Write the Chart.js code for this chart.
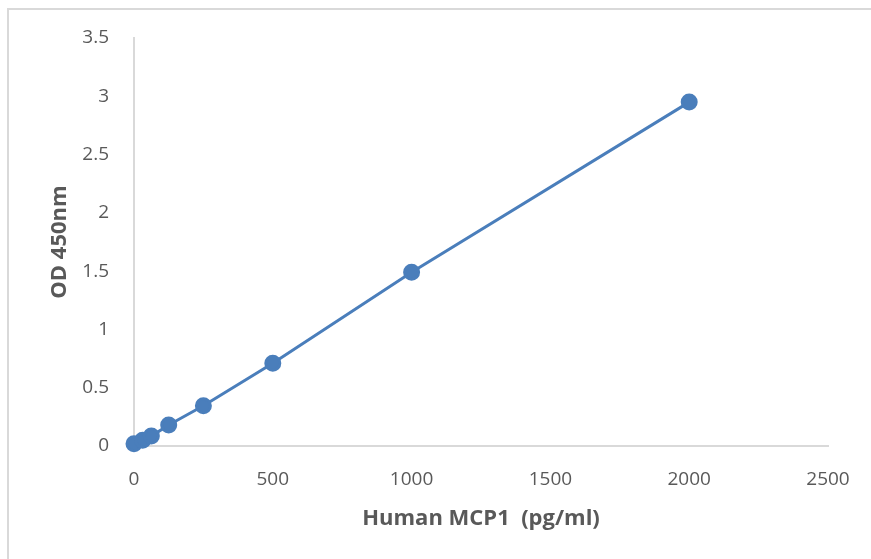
<!DOCTYPE html>
<html>
<head>
<meta charset="utf-8">
<script src="https://cdn.jsdelivr.net/npm/chart.js@4"></script>
<style>
  html, body { margin: 0; padding: 0; background: #fff; }
  #wrap { position: relative; width: 871px; height: 559px; overflow: hidden; }
  #frame { position: absolute; left: 7px; top: 8px; width: 900px; height: 600px;
           border-left: 2px solid #d9d9d9; border-top: 2px solid #d9d9d9; }
  canvas { position: absolute; left: 0; top: 0; }
</style>
</head>
<body>
<div id="wrap">
  <div id="frame"></div>
  <canvas id="mcp1" width="871" height="559"></canvas>
</div>
<script>
// standard curve, Human MCP1
var concentrations = [0, 31.25, 62.5, 125, 250, 500, 1000, 2000];
var odValues = [0.02, 0.05, 0.085, 0.18, 0.345, 0.71, 1.49, 2.95];

var xTicks = [0, 500, 1000, 1500, 2000, 2500];
var yTicks = [0, 0.5, 1, 1.5, 2, 2.5, 3, 3.5];

var points = concentrations.map(function (c, i) { return { x: c, y: odValues[i] }; });

function plain(v) { return String(v); }

var ctx = document.getElementById('mcp1').getContext('2d');
var chart = new Chart(ctx, {
    type: 'scatter',
    data: {
        datasets: [{
            label: "OD 450nm",
            data: points,
            showLine: true,
            clip: false,
            borderColor: "#4a7ebb",
            backgroundColor: "#4a7ebb",
            borderWidth: 3,
            pointRadius: 7,
            pointHoverRadius: 7,
            tension: 0
        }]
    },
    options: {
        responsive: false,
        animation: false,
        layout: { padding: { top: 38, right: 43, left: 0, bottom: 0 } },
        plugins: {
            legend: { display: false },
            tooltip: { enabled: false }
        },
        scales: {
            x: {
                type: 'linear',
                min: xTicks[0],
                max: xTicks[xTicks.length - 1],
                afterBuildTicks: function (s) { s.ticks = xTicks.map(function (v) { return { value: v }; }); },
                afterFit: function (s) { s.height = 113; },
                grid: { display: false },
                border: { display: true, color: "#d9d9d9", width: 2 },
                ticks: { padding: 14, color: "#595959", font: { family: "Open Sans", size: 19 }, callback: plain },
                title: {
                    display: true,
                    text: "Human MCP1  (pg/ml)",
                    color: "#595959",
                    font: { family: "Open Sans", size: 22, weight: "bold" },
                    padding: { top: 0, bottom: 27 }
                }
            },
            y: {
                min: yTicks[0],
                max: yTicks[yTicks.length - 1],
                afterBuildTicks: function (s) { s.ticks = yTicks.map(function (v) { return { value: v }; }); },
                afterFit: function (s) { s.width = 134; },
                grid: { display: false },
                border: { display: true, color: "#d9d9d9", width: 2 },
                ticks: { padding: 17, color: "#595959", font: { family: "Open Sans", size: 19 }, callback: plain },
                title: {
                    display: true,
                    text: "OD 450nm",
                    color: "#595959",
                    font: { family: "Open Sans", size: 22, weight: "bold" },
                    padding: { top: 47, bottom: 0 }
                }
            }
        }
    }
});
</script>
</body>
</html>
